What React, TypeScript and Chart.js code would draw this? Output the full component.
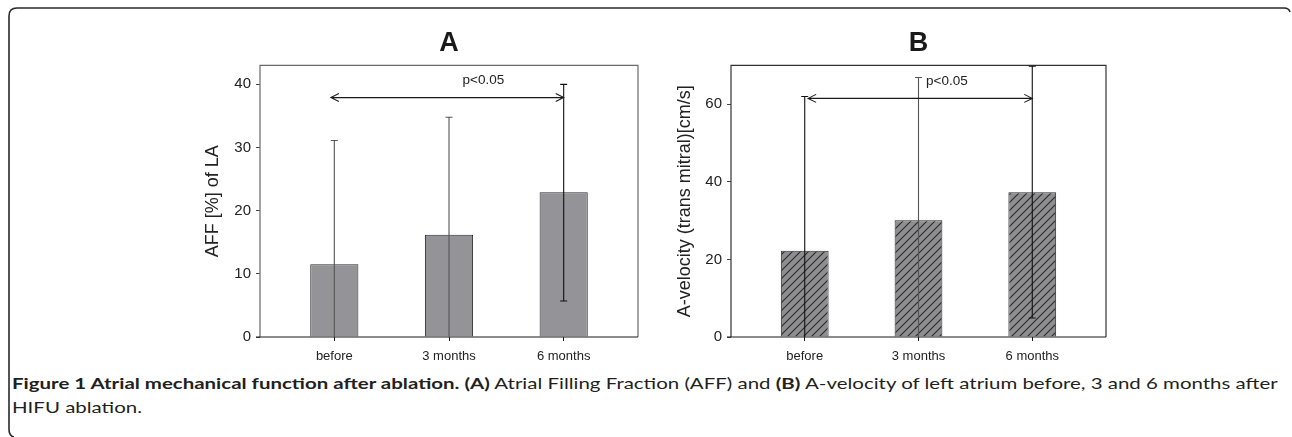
import React, { useEffect, useLayoutEffect, useRef, useState } from "react";
import { Chart, registerables } from "chart.js";

Chart.register(...registerables);

// ---------- data ----------
const categories = ["before", "3 months", "6 months"];
const affMean = [11.5, 16.2, 22.9];
const affUpper = [31.1, 34.8, 40.0];
const affLower = [0, 0, 5.7];
const velMean = [22.2, 30.1, 37.3];
const velUpper = [62.0, 66.9, 69.8];
const velLower = [0, 0, 4.9];
// significance arrow: [from category index, to category index, value]
const affArrow = [-0.03, 2.0, 37.9];
const velArrow = [0.03, 2.0, 61.5];
// p label: [category position, value]
const affPLabel = [1.3, 40.6];
const velPLabel = [1.25, 65.8];
const pText = "p<0.05";
const affYMax = 43;
const velYMax = 70;
const affYStep = 10;
const velYStep = 20;

const FONT = "'Liberation Sans', Arial, Helvetica, sans-serif";

function hatchPattern(bg: string, fg: string) {
  const c = document.createElement("canvas");
  c.width = 8;
  c.height = 8;
  const g = c.getContext("2d")!;
  g.fillStyle = bg;
  g.fillRect(0, 0, 8, 8);
  g.strokeStyle = fg;
  g.lineWidth = 1.1;
  g.beginPath();
  g.moveTo(0, 8);
  g.lineTo(8, 0);
  g.moveTo(-1, 1);
  g.lineTo(1, -1);
  g.moveTo(7, 9);
  g.lineTo(9, 7);
  g.stroke();
  return g.createPattern(c, "repeat")!;
}

const extrasPlugin = {
  id: "extras",
  afterDatasetsDraw(chart: any, _args: any, o: any) {
    const { ctx, chartArea: a, scales } = chart;
    const x = scales.x;
    const y = scales.y;
    ctx.save();
    // box
    ctx.lineWidth = 1.2;
    ctx.strokeStyle = o.boxColor;
    ctx.beginPath();
    ctx.moveTo(a.left, a.bottom);
    ctx.lineTo(a.left, a.top);
    ctx.lineTo(a.right, a.top);
    ctx.lineTo(a.right, a.bottom);
    ctx.stroke();
    ctx.strokeStyle = "#1a1a1a";
    ctx.beginPath();
    ctx.moveTo(a.left - 4, a.bottom);
    ctx.lineTo(a.right, a.bottom);
    ctx.stroke();
    // error bars
    ctx.lineWidth = 1.1;
    o.upper.forEach((u: number, i: number) => {
      const px = x.getPixelForValue(i);
      const top = y.getPixelForValue(u);
      const bot = y.getPixelForValue(o.lower[i]);
      ctx.strokeStyle = o.errColors[i];
      ctx.beginPath();
      ctx.moveTo(px, top);
      ctx.lineTo(px, bot);
      ctx.moveTo(px - 3.5, top);
      ctx.lineTo(px + 3.5, top);
      if (o.lower[i] > 0) {
        ctx.moveTo(px - 3.5, bot);
        ctx.lineTo(px + 3.5, bot);
      }
      ctx.stroke();
    });
    // arrow
    const [fx, tx, av] = o.arrow;
    const x1 = x.getPixelForValue(fx);
    const x2 = x.getPixelForValue(tx);
    const ay = y.getPixelForValue(av);
    ctx.strokeStyle = "#1a1a1a";
    ctx.lineWidth = 1.1;
    ctx.beginPath();
    ctx.moveTo(x1, ay);
    ctx.lineTo(x2, ay);
    ctx.moveTo(x1 + 8, ay - 4);
    ctx.lineTo(x1, ay);
    ctx.lineTo(x1 + 8, ay + 4);
    ctx.moveTo(x2 - 8, ay - 4);
    ctx.lineTo(x2, ay);
    ctx.lineTo(x2 - 8, ay + 4);
    ctx.stroke();
    // p label
    ctx.fillStyle = "#222";
    ctx.font = `13.5px ${FONT}`;
    ctx.textAlign = "center";
    ctx.textBaseline = "middle";
    ctx.fillText(o.pText, x.getPixelForValue(o.pLabel[0]), y.getPixelForValue(o.pLabel[1]));
    ctx.restore();
  },
};

interface PanelProps {
  left: number;
  width: number;
  height: number;
  title: string;
  yTitle: string;
  yTitlePad: number;
  yAxisWidth: number;
  padRight: number;
  yMax: number;
  yStep: number;
  mean: number[];
  upper: number[];
  lower: number[];
  arrow: number[];
  pLabel: number[];
  hatched: boolean;
  boxColor: string;
  errColors: string[];
}

function Panel(p: PanelProps) {
  const ref = useRef<HTMLCanvasElement>(null);
  useEffect(() => {
    const fill = p.hatched ? hatchPattern("#8e8e90", "#2a2a2a") : "#949498";
    const chart = new Chart(ref.current!, {
      type: "bar",
      data: {
        datasets: [
          {
            data: p.mean.map((v, i) => ({ x: i, y: v })),
            backgroundColor: fill as any,
            borderColor: "#2a2a2a",
            borderWidth: 1,
            barPercentage: 0.42,
            categoryPercentage: 1,
          },
        ],
      },
      options: {
        responsive: false,
        maintainAspectRatio: false,
        animation: false,
        layout: { padding: { left: 0, right: p.padRight, top: 0, bottom: 0 } },
        plugins: {
          legend: { display: false },
          tooltip: { enabled: false },
          title: {
            display: true,
            text: p.title,
            fullSize: false,
            color: "#1a1a1a",
            font: { family: FONT, size: 27, weight: "bold" },
            padding: { top: 27, bottom: 6 },
          },
          extras: {
            upper: p.upper,
            lower: p.lower,
            arrow: p.arrow,
            pLabel: p.pLabel,
            pText,
            boxColor: p.boxColor,
            errColors: p.errColors,
          },
        } as any,
        scales: {
          x: {
            type: "linear",
            offset: false,
            min: -0.648,
            max: 2.648,
            afterBuildTicks: (s: any) => {
              s.ticks = categories.map((_, i) => ({ value: i }));
            },
            afterFit: (s: any) => {
              s.height = 30;
            },
            grid: { offset: false, drawOnChartArea: false, drawTicks: true, tickLength: 4, color: "#1a1a1a" },
            border: { display: false },
            ticks: {
              callback: (v: any) => categories[Math.round(Number(v))] ?? "",
              font: { family: FONT, size: 13 },
              color: "#222",
              padding: 8,
              maxRotation: 0,
              autoSkip: false,
            },
          },
          y: {
            min: 0,
            max: p.yMax,
            afterFit: (s: any) => {
              s.width = p.yAxisWidth;
            },
            grid: { drawOnChartArea: false, drawTicks: true, tickLength: 4, color: "#444" },
            border: { display: false },
            ticks: {
              stepSize: p.yStep,
              includeBounds: false,
              font: { family: FONT, size: 15 },
              color: "#222",
              padding: 5,
            },
            title: {
              display: true,
              text: p.yTitle,
              color: "#222",
              font: { family: FONT, size: 18 },
              padding: { top: p.yTitlePad, bottom: 0 },
            },
          },
        } as any,
      },
      plugins: [extrasPlugin as any],
    });
    return () => chart.destroy();
  }, []);
  return (
    <canvas
      ref={ref}
      width={p.width}
      height={p.height}
      style={{ position: "absolute", left: p.left, top: 0, width: p.width, height: p.height }}
    />
  );
}

function Caption() {
  const l1 = useRef<HTMLSpanElement>(null);
  const [scale, setScale] = useState(1);
  useLayoutEffect(() => {
    if (l1.current) {
      const w = l1.current.offsetWidth;
      if (w > 0) setScale(1266 / w);
    }
  }, []);
  return (
    <div
      style={{
        position: "absolute",
        left: 12,
        top: 371,
        fontFamily: "Lato, 'Open Sans', sans-serif",
        fontSize: 16,
        lineHeight: "24px",
        color: "#231f20",
        whiteSpace: "nowrap",
        transform: `scaleX(${scale})`,
        transformOrigin: "left top",
      }}
    >
      <span ref={l1}>
        <b>Figure 1 Atrial mechanical function after ablation. (A)</b> Atrial Filling Fraction (AFF) and{" "}
        <b>(B)</b> A-velocity of left atrium before, 3 and 6 months after
      </span>
      <br />
      <span>HIFU ablation.</span>
    </div>
  );
}

export default function App() {
  return (
    <div
      style={{
        position: "fixed",
        left: 0,
        top: 0,
        width: 1292,
        height: 437,
        background: "#fff",
        overflow: "hidden",
      }}
    >
      <svg width={1292} height={437} style={{ position: "absolute", left: 0, top: 0 }}>
        <path
          d="M 1290 12 Q 1289 8 1284 8 L 17 8 Q 9 8 9 16 L 9 429 Q 9 436 14 437"
          fill="none"
          stroke="#2a2a2a"
          strokeWidth={1.6}
        />
      </svg>
      <Panel
        left={150}
        width={500}
        height={367}
        title="A"
        yTitle="AFF [%] of LA"
        yTitlePad={52}
        yAxisWidth={110}
        padRight={12}
        yMax={affYMax}
        yStep={affYStep}
        mean={affMean}
        upper={affUpper}
        lower={affLower}
        arrow={affArrow}
        pLabel={affPLabel}
        hatched={false}
        boxColor="#6a6a6a"
        errColors={["#555", "#555", "#111"]}
      />
      <Panel
        left={620}
        width={500}
        height={367}
        title="B"
        yTitle="A-velocity (trans mitral)[cm/s]"
        yTitlePad={54}
        yAxisWidth={111}
        padRight={14}
        yMax={velYMax}
        yStep={velYStep}
        mean={velMean}
        upper={velUpper}
        lower={velLower}
        arrow={velArrow}
        pLabel={velPLabel}
        hatched={true}
        boxColor="#333"
        errColors={["#111", "#555", "#111"]}
      />
      <Caption />
    </div>
  );
}
